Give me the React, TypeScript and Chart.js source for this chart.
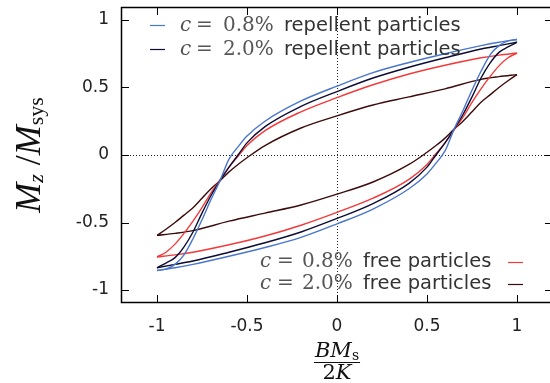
import React, { useEffect, useRef } from "react";
import { Chart, registerables } from "chart.js";

Chart.register(...registerables);

// Field values (B*Ms/2K) along the upper branch (coming down from +saturation), listed left to right
const X_UPPER = [-1, -0.95, -0.9, -0.85, -0.8, -0.75, -0.7, -0.65, -0.6, -0.55, -0.5, -0.4, -0.2, 0, 0.2, 0.4, 0.6, 0.8, 0.9, 1];
// Field values along the lower branch
const X_LOWER = [-1, -0.9, -0.8, -0.6, -0.4, -0.2, 0, 0.2, 0.4, 0.5, 0.55, 0.6, 0.65, 0.7, 0.75, 0.8, 0.85, 0.9, 0.95, 1];

// c = 0.8% repellent particles
const REP08_UPPER = [-0.855, -0.845, -0.81, -0.74, -0.62, -0.48, -0.33, -0.19, -0.03, 0.06, 0.14, 0.25, 0.4, 0.51, 0.61, 0.685, 0.75, 0.81, 0.835, 0.855];
const REP08_LOWER = [-0.855, -0.835, -0.81, -0.75, -0.685, -0.61, -0.51, -0.4, -0.25, -0.14, -0.06, 0.03, 0.19, 0.33, 0.48, 0.62, 0.74, 0.81, 0.845, 0.855];
// c = 2.0% repellent particles
const REP20_UPPER = [-0.835, -0.8, -0.76, -0.68, -0.57, -0.43, -0.3, -0.19, -0.09, 0.0, 0.09, 0.21, 0.36, 0.47, 0.57, 0.65, 0.72, 0.785, 0.81, 0.835];
const REP20_LOWER = [-0.835, -0.81, -0.785, -0.72, -0.65, -0.57, -0.47, -0.36, -0.21, -0.09, 0.0, 0.09, 0.19, 0.3, 0.43, 0.57, 0.68, 0.76, 0.8, 0.835];
// c = 0.8% free particles
const FREE08_UPPER = [-0.755, -0.72, -0.66, -0.58, -0.49, -0.39, -0.28, -0.185, -0.09, -0.01, 0.07, 0.18, 0.32, 0.425, 0.52, 0.6, 0.665, 0.72, 0.74, 0.755];
const FREE08_LOWER = [-0.755, -0.74, -0.72, -0.665, -0.6, -0.52, -0.425, -0.32, -0.18, -0.07, 0.01, 0.09, 0.185, 0.28, 0.39, 0.49, 0.58, 0.66, 0.72, 0.755];
// c = 2.0% free particles
const FREE20_UPPER = [-0.595, -0.55, -0.5, -0.445, -0.39, -0.32, -0.25, -0.19, -0.125, -0.07, -0.02, 0.07, 0.2, 0.29, 0.37, 0.43, 0.49, 0.56, 0.58, 0.595];
const FREE20_LOWER = [-0.595, -0.58, -0.56, -0.49, -0.43, -0.37, -0.29, -0.2, -0.07, 0.02, 0.07, 0.125, 0.19, 0.25, 0.32, 0.39, 0.445, 0.5, 0.55, 0.595];

const TICKS = [-1, -0.5, 0, 0.5, 1];
const TICK_LABELS = ["-1", "-0.5", "0", "0.5", "1"];

const COLORS = {
  rep08: "#4a76cc",
  rep20: "#0c0c34",
  free08: "#f23a3a",
  free20: "#3c0c0c",
};

const toPts = (xs: number[], ys: number[]) => xs.map((x, i) => ({ x, y: ys[i] }));

const SERIF = '"DejaVu Serif"';
const TITLE_SERIF = '"Liberation Serif"';
const SANS = '"DejaVu Sans"';

function drawSegs(ctx: CanvasRenderingContext2D, segs: { t: string; f: string; x: number; dy?: number; c?: string }[], y: number) {
  for (const s of segs) {
    ctx.font = s.f;
    ctx.fillStyle = s.c || "#333";
    ctx.fillText(s.t, s.x, y + (s.dy || 0));
  }
}

const overlay = {
  id: "overlay",
  beforeDatasetsDraw(chart: any) {
    const { ctx, chartArea: a, scales } = chart;
    const x0 = scales.x.getPixelForValue(0);
    const y0 = scales.y.getPixelForValue(0);
    ctx.save();
    ctx.strokeStyle = "#222";
    ctx.lineWidth = 1;
    ctx.setLineDash([1, 2]);
    ctx.beginPath();
    ctx.moveTo(Math.round(x0) + 0.5, a.top);
    ctx.lineTo(Math.round(x0) + 0.5, a.bottom);
    ctx.moveTo(a.left, Math.round(y0) + 0.5);
    ctx.lineTo(a.right, Math.round(y0) + 0.5);
    ctx.stroke();
    ctx.restore();
  },
  afterDraw(chart: any) {
    const { ctx, chartArea: a, scales } = chart;
    ctx.save();
    // frame
    ctx.strokeStyle = "#000";
    ctx.lineWidth = 1.5;
    ctx.strokeRect(a.left + 0.5, a.top + 0.5, a.right - a.left - 1, a.bottom - a.top - 1);
    // inward ticks
    ctx.lineWidth = 1;
    ctx.beginPath();
    const tl = 8;
    for (const v of TICKS) {
      const px = Math.round(scales.x.getPixelForValue(v)) + 0.5;
      ctx.moveTo(px, a.bottom);
      ctx.lineTo(px, a.bottom - tl);
      ctx.moveTo(px, a.top);
      ctx.lineTo(px, a.top + tl);
      const py = Math.round(scales.y.getPixelForValue(v)) + 0.5;
      ctx.moveTo(a.left, py);
      ctx.lineTo(a.left + tl, py);
      ctx.moveTo(a.right, py);
      ctx.lineTo(a.right - tl, py);
    }
    ctx.stroke();

    // legends
    ctx.textBaseline = "alphabetic";
    ctx.textAlign = "left";
    const serifI = `italic 20px ${SERIF}`;
    const serifR = `20px ${SERIF}`;
    const sans = `19.5px ${SANS}`;
    const gray = "#555";
    const dark = "#333";
    const legendTop = [
      { label: "0.8%", color: COLORS.rep08, base: 31, ly: 25 },
      { label: "2.0%", color: COLORS.rep20, base: 55, ly: 49 },
    ];
    for (const e of legendTop) {
      ctx.strokeStyle = e.color;
      ctx.lineWidth = 1.2;
      ctx.beginPath();
      ctx.moveTo(150, e.ly + 0.5);
      ctx.lineTo(165, e.ly + 0.5);
      ctx.stroke();
      drawSegs(ctx, [
        { t: "c", f: serifI, x: 180, c: gray },
        { t: "=", f: serifR, x: 196, c: gray },
        { t: e.label, f: serifR, x: 223, c: gray },
        { t: "repellent particles", f: sans, x: 284, c: dark },
      ], e.base);
    }
    const legendBottom = [
      { label: "0.8%", color: COLORS.free08, base: 267, ly: 262 },
      { label: "2.0%", color: COLORS.free20, base: 289, ly: 284 },
    ];
    for (const e of legendBottom) {
      drawSegs(ctx, [
        { t: "c", f: serifI, x: 260, c: gray },
        { t: "=", f: serifR, x: 277, c: gray },
        { t: e.label, f: serifR, x: 302, c: gray },
        { t: "free particles", f: sans, x: 363, c: dark },
      ], e.base);
      ctx.strokeStyle = e.color;
      ctx.lineWidth = 1.2;
      ctx.beginPath();
      ctx.moveTo(508, e.ly + 0.5);
      ctx.lineTo(523, e.ly + 0.5);
      ctx.stroke();
    }

    // x-axis title: BM_s / 2K
    const cx = scales.x.getPixelForValue(0);
    ctx.fillStyle = "#111";
    ctx.font = `italic 21px ${SERIF}`;
    const wBM = ctx.measureText("BM").width;
    ctx.font = `14px ${SERIF}`;
    const wS = ctx.measureText("s").width;
    const numW = wBM + wS;
    const sx = cx - numW / 2;
    ctx.font = `italic 21px ${SERIF}`;
    ctx.fillText("BM", sx, 357);
    ctx.font = `14px ${SERIF}`;
    ctx.fillText("s", sx + wBM, 360);
    ctx.strokeStyle = "#111";
    ctx.lineWidth = 1;
    ctx.beginPath();
    ctx.moveTo(cx - numW / 2 - 1, 362.5);
    ctx.lineTo(cx + numW / 2 + 1, 362.5);
    ctx.stroke();
    ctx.font = `21px ${SERIF}`;
    const w2 = ctx.measureText("2").width;
    ctx.font = `italic 21px ${SERIF}`;
    const wK = ctx.measureText("K").width;
    const dx = cx - (w2 + wK) / 2;
    ctx.font = `21px ${SERIF}`;
    ctx.fillText("2", dx, 379);
    ctx.font = `italic 21px ${SERIF}`;
    ctx.fillText("K", dx + w2, 379);

    // y-axis title: M_z / M_sys (rotated)
    ctx.translate(40, scales.y.getPixelForValue(0));
    ctx.rotate(-Math.PI / 2);
    const big = `italic 36px ${TITLE_SERIF}`;
    const subI = `italic 22px ${TITLE_SERIF}`;
    const subR = `22px ${TITLE_SERIF}`;
    const reg = `36px ${TITLE_SERIF}`;
    const parts = [
      { t: "M", f: big, dy: 0 },
      { t: "z", f: subI, dy: 3 },
      { t: " /", f: reg, dy: 0 },
      { t: "M", f: big, dy: 0 },
      { t: "sys", f: subR, dy: 3 },
    ];
    let total = 0;
    const widths = parts.map((p) => {
      ctx.font = p.f;
      const w = ctx.measureText(p.t).width;
      total += w;
      return w;
    });
    let px = -total / 2;
    parts.forEach((p, i) => {
      ctx.font = p.f;
      ctx.fillStyle = "#111";
      ctx.fillText(p.t, px, p.dy);
      px += widths[i];
    });
    ctx.restore();
  },
};

export default function App() {
  const ref = useRef<HTMLCanvasElement | null>(null);
  useEffect(() => {
    if (!ref.current) return;
    const mk = (ys: number[], xs: number[], color: string) => ({
      data: toPts(xs, ys),
      borderColor: color,
      backgroundColor: color,
      borderWidth: 1.4,
      pointRadius: 0,
      showLine: true,
      fill: false,
      cubicInterpolationMode: "monotone" as const,
    });
    const chart = new Chart(ref.current, {
      type: "line",
      data: {
        datasets: [
          mk(REP08_UPPER, X_UPPER, COLORS.rep08),
          mk(REP08_LOWER, X_LOWER, COLORS.rep08),
          mk(REP20_UPPER, X_UPPER, COLORS.rep20),
          mk(REP20_LOWER, X_LOWER, COLORS.rep20),
          mk(FREE08_UPPER, X_UPPER, COLORS.free08),
          mk(FREE08_LOWER, X_LOWER, COLORS.free08),
          mk(FREE20_UPPER, X_UPPER, COLORS.free20),
          mk(FREE20_LOWER, X_LOWER, COLORS.free20),
        ],
      },
      options: {
        animation: false,
        responsive: false,
        parsing: false as any,
        layout: { padding: { top: 7, right: 7, left: 0, bottom: 0 } },
        plugins: { legend: { display: false }, tooltip: { enabled: false } },
        scales: {
          x: {
            type: "linear",
            min: -1.2,
            max: 1.2,
            grid: { display: false, drawTicks: false },
            border: { display: false },
            afterBuildTicks: (s: any) => {
              s.ticks = TICKS.map((v) => ({ value: v }));
            },
            afterFit: (s: any) => {
              s.height = 80;
              s.paddingLeft = 0;
              s.paddingRight = 0;
              s.paddingTop = 0;
              s.paddingBottom = 0;
            },
            ticks: {
              padding: 13,
              color: "#222",
              font: { family: "DejaVu Sans", size: 17 },
              maxRotation: 0,
              callback: (v: any) => TICK_LABELS[TICKS.indexOf(Number(v))] ?? "",
            },
          },
          y: {
            type: "linear",
            min: -1.096,
            max: 1.096,
            grid: { display: false, drawTicks: false },
            border: { display: false },
            afterBuildTicks: (s: any) => {
              s.ticks = TICKS.map((v) => ({ value: v }));
            },
            afterFit: (s: any) => {
              s.width = 121;
              s.paddingTop = 0;
              s.paddingBottom = 0;
              s.paddingLeft = 0;
              s.paddingRight = 0;
            },
            ticks: {
              padding: 12,
              color: "#222",
              font: { family: "DejaVu Sans", size: 17 },
              callback: (v: any) => TICK_LABELS[TICKS.indexOf(Number(v))] ?? "",
            },
          },
        },
      },
      plugins: [overlay],
    });
    return () => chart.destroy();
  }, []);
  return (
    <div style={{ position: "fixed", left: 0, top: 0, width: 560, height: 383, background: "#fff" }}>
      <canvas ref={ref} width={560} height={383} style={{ display: "block" }} />
    </div>
  );
}
